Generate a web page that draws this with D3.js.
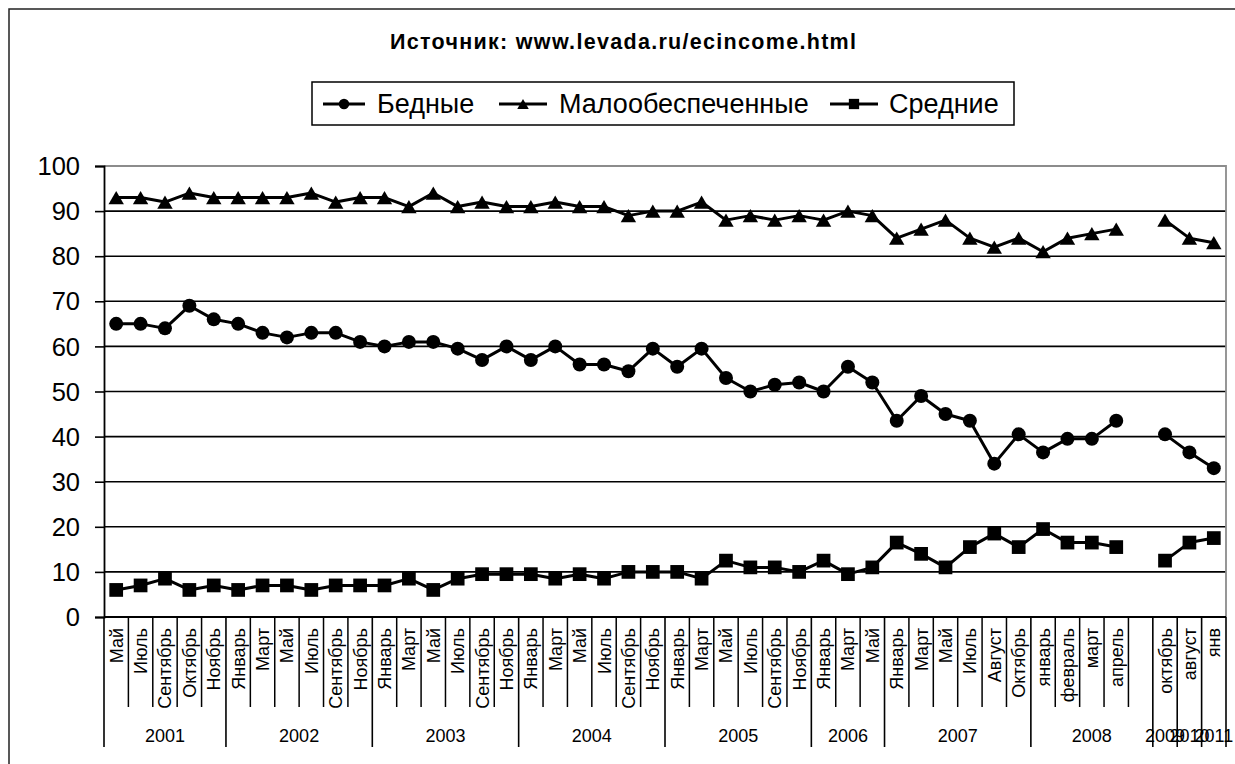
<!DOCTYPE html>
<html><head><meta charset="utf-8">
<script src="https://cdn.jsdelivr.net/npm/d3@7"></script>
<style>
html,body{margin:0;padding:0;background:#fff;}
svg{display:block;font-family:"Liberation Sans",Arial,sans-serif;}
</style></head>
<body>
<svg id="chart" width="1235" height="764"></svg>
<script>
const months = ["Май","Июль","Сентябрь","Октябрь","Ноябрь",
  "Январь","Март","Май","Июль","Сентябрь","Ноябрь",
  "Январь","Март","Май","Июль","Сентябрь","Ноябрь",
  "Январь","Март","Май","Июль","Сентябрь","Ноябрь",
  "Январь","Март","Май","Июль","Сентябрь","Ноябрь",
  "Январь","Март","Май",
  "Январь","Март","Май","Июль","Август","Октябрь",
  "январь","февраль","март","апрель","",
  "октябрь","август","янв"];
const years = ["2001","2002","2003","2004","2005","2006","2007","2008","2009","2010","2011"];
const yearSpans = [5,6,6,6,6,3,6,5,1,1,1];
const seriesNames = ["Бедные","Малообеспеченные","Средние"];
const bednye = [65,65,64,69,66,65,63,62,63,63,61,60,
  61,61,59.5,57,60,57,60,56,56,54.5,59.5,55.5,
  59.5,53,50,51.5,52,50,55.5,52,43.5,49,45,43.5,
  34,40.5,36.5,39.5,39.5,43.5,null,40.5,36.5,33];
const malo = [93,93,92,94,93,93,93,93,94,92,93,93,
  91,94,91,92,91,91,92,91,91,89,90,90,
  92,88,89,88,89,88,90,89,84,86,88,84,
  82,84,81,84,85,86,null,88,84,83];
const srednie = [6,7,8.5,6,7,6,7,7,6,7,7,7,
  8.5,6,8.5,9.5,9.5,9.5,8.5,9.5,8.5,10,10,10,
  8.5,12.5,11,11,10,12.5,9.5,11,16.5,14,11,15.5,
  18.5,15.5,19.5,16.5,16.5,15.5,null,12.5,16.5,17.5];
const yTicks = [0,10,20,30,40,50,60,70,80,90,100];
const title = "Источник: www.levada.ru/ecincome.html";

const svg = d3.select("#chart");
const L = 104, R = 1226, T = 166, B = 617;
const idx = months.map((_, i) => i);
const x = d3.scaleBand().domain(idx).range([L, R]).padding(0);
const y = d3.scaleLinear().domain([0, 100]).range([B, T]);

// outer border
svg.append("rect").attr("x", 9).attr("y", 9).attr("width", 1240).attr("height", 780)
  .attr("fill", "none").attr("stroke", "#222").attr("stroke-width", 1.5);

// title
svg.append("text").attr("x", 390).attr("y", 49)
  .attr("font-size", 21.5).attr("font-weight", "bold")
  .attr("textLength", 466).attr("lengthAdjust", "spacing")
  .text(title);

// legend
const lg = svg.append("g");
lg.append("rect").attr("x", 312).attr("y", 82).attr("width", 702).attr("height", 43)
  .attr("fill", "#fff").attr("stroke", "#000").attr("stroke-width", 1.5);
const legendItems = [
  {name: seriesNames[0], x0: 323, x1: 365, tx: 377, sym: "circle"},
  {name: seriesNames[1], x0: 499, x1: 547, tx: 559, sym: "triangle"},
  {name: seriesNames[2], x0: 830, x1: 878, tx: 889, sym: "square"}
];
function drawMarker(g, sym, cx, cy, s) {
  if (sym === "circle") {
    g.append("circle").attr("cx", cx).attr("cy", cy).attr("r", s / 2).attr("fill", "#000");
  } else if (sym === "triangle") {
    const w = s * 1.1, h = s * 0.95;
    g.append("path").attr("d", `M${cx},${cy - h/2}L${cx + w/2},${cy + h/2}L${cx - w/2},${cy + h/2}Z`).attr("fill", "#000");
  } else {
    const w = s * 0.98;
    g.append("rect").attr("x", cx - w/2).attr("y", cy - w/2).attr("width", w).attr("height", w).attr("fill", "#000");
  }
}
legendItems.forEach(it => {
  const cy = 104;
  lg.append("line").attr("x1", it.x0).attr("x2", it.x1).attr("y1", cy).attr("y2", cy)
    .attr("stroke", "#000").attr("stroke-width", 3);
  drawMarker(lg, it.sym, (it.x0 + it.x1) / 2, cy, 10.5);
  lg.append("text").attr("x", it.tx).attr("y", 113).attr("font-size", 27).text(it.name);
});

// gridlines
svg.append("g").selectAll("line").data(yTicks.filter(v => v > 0 && v < 100)).join("line")
  .attr("x1", L).attr("x2", R).attr("y1", d => y(d)).attr("y2", d => y(d))
  .attr("stroke", "#000").attr("stroke-width", 1.6);
// plot border top/right (gray)
svg.append("path").attr("d", `M${L},${T}H${R}V${B}`).attr("fill", "none")
  .attr("stroke", "#8c8c8c").attr("stroke-width", 1.8);

// y axis
const yAxis = svg.append("g").attr("transform", `translate(${L},0)`)
  .call(d3.axisLeft(y).tickValues(yTicks).tickSize(9).tickPadding(15).tickFormat(d3.format("d")));
yAxis.select(".domain").attr("stroke", "#000").attr("stroke-width", 1.8);
yAxis.selectAll(".tick line").attr("stroke", "#000").attr("stroke-width", 1.6);
yAxis.selectAll(".tick text").attr("font-size", 25.5).attr("fill", "#000")
  .attr("font-family", '"Liberation Sans",Arial,sans-serif').attr("dy", "0.34em");

// category axis
const xAxis = svg.append("g");
xAxis.append("line").attr("x1", L).attr("x2", R).attr("y1", B).attr("y2", B)
  .attr("stroke", "#000").attr("stroke-width", 1.8);
const boundaries = [];
let acc = 0;
yearSpans.forEach(s => { boundaries.push(acc); acc += s; });
boundaries.push(acc);
const bx = i => i === months.length ? R : x(i);
xAxis.selectAll("line.mt").data(d3.range(1, months.length).filter(i => !boundaries.includes(i))).join("line")
  .attr("class", "mt")
  .attr("x1", i => x(i)).attr("x2", i => x(i)).attr("y1", B).attr("y2", 707)
  .attr("stroke", "#000").attr("stroke-width", 1.5);
xAxis.selectAll("line.yt").data(boundaries).join("line")
  .attr("class", "yt")
  .attr("x1", bx).attr("x2", bx)
  .attr("y1", B).attr("y2", 747)
  .attr("stroke", "#000").attr("stroke-width", 1.6);
xAxis.selectAll("text.ml").data(idx).join("text")
  .attr("class", "ml")
  .attr("transform", i => `translate(${x(i) + x.bandwidth() / 2},628) rotate(-90)`)
  .attr("text-anchor", "end").attr("dy", "0.36em").attr("font-size", 18)
  .text(i => months[i]);
xAxis.selectAll("text.yl").data(years).join("text")
  .attr("class", "yl")
  .attr("x", (d, k) => (bx(boundaries[k]) + bx(boundaries[k + 1])) / 2)
  .attr("y", 742).attr("text-anchor", "middle").attr("font-size", 18)
  .text(d => d);

// series
const series = [
  {values: bednye, sym: "circle", size: 14},
  {values: malo, sym: "triangle", size: 14},
  {values: srednie, sym: "square", size: 14}
];
const line = d3.line().defined(d => d.v !== null)
  .x(d => x(d.i) + x.bandwidth() / 2).y(d => y(d.v));
series.forEach(s => {
  const pts = s.values.map((v, i) => ({i, v}));
  const g = svg.append("g");
  g.append("path").attr("d", line(pts)).attr("fill", "none")
    .attr("stroke", "#000").attr("stroke-width", 3).attr("stroke-linejoin", "round");
  pts.filter(p => p.v !== null).forEach(p => {
    drawMarker(g, s.sym, x(p.i) + x.bandwidth() / 2, y(p.v), s.size);
  });
});
</script>
</body></html>
